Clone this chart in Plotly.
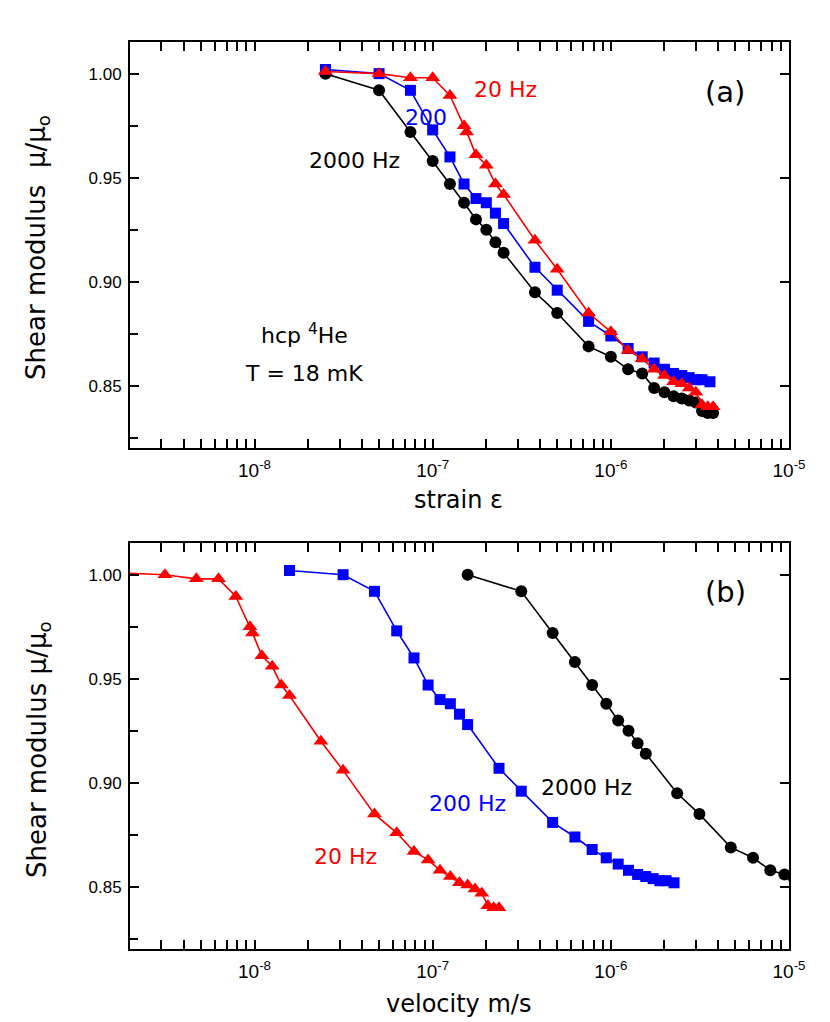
import plotly.graph_objects as go
import math

# ---------------- data ----------------
# Top panel: strain amplitude
strain_2000 = [2.5e-8, 5e-8, 7.5e-8, 1e-7, 1.25e-7, 1.5e-7, 1.75e-7, 2e-7, 2.25e-7, 2.5e-7,
               3.75e-7, 5e-7, 7.5e-7, 1e-6, 1.25e-6, 1.5e-6, 1.75e-6, 2e-6, 2.25e-6, 2.5e-6,
               2.75e-6, 3e-6, 3.25e-6, 3.5e-6, 3.75e-6]
mu_2000 = [1.000, 0.992, 0.972, 0.958, 0.947, 0.938, 0.930, 0.925, 0.919, 0.914,
           0.895, 0.885, 0.869, 0.864, 0.858, 0.856, 0.849, 0.847, 0.845, 0.844,
           0.843, 0.842, 0.838, 0.837, 0.837]

strain_200 = [2.5e-8, 5e-8, 7.5e-8, 1e-7, 1.25e-7, 1.5e-7, 1.75e-7, 2e-7, 2.25e-7, 2.5e-7,
              3.75e-7, 5e-7, 7.5e-7, 1e-6, 1.25e-6, 1.5e-6, 1.75e-6, 2e-6, 2.25e-6, 2.5e-6,
              2.75e-6, 3e-6, 3.25e-6, 3.6e-6]
mu_200 = [1.002, 1.000, 0.992, 0.973, 0.960, 0.947, 0.940, 0.938, 0.933, 0.928,
          0.907, 0.896, 0.881, 0.874, 0.868, 0.864, 0.861, 0.858, 0.856, 0.855,
          0.854, 0.853, 0.853, 0.852]

strain_20 = [2.5e-8, 5e-8, 7.5e-8, 1e-7, 1.25e-7, 1.5e-7, 1.55e-7, 1.75e-7, 2e-7, 2.25e-7,
             2.5e-7, 3.75e-7, 5e-7, 7.5e-7, 1e-6, 1.25e-6, 1.5e-6, 1.75e-6, 2e-6, 2.25e-6,
             2.5e-6, 2.75e-6, 3e-6, 3.25e-6, 3.5e-6, 3.75e-6]
mu_20 = [1.001, 1.000, 0.998, 0.998, 0.9895, 0.975, 0.972, 0.961, 0.956, 0.947,
         0.942, 0.920, 0.906, 0.885, 0.876, 0.867, 0.863, 0.858, 0.855, 0.852,
         0.851, 0.849, 0.847, 0.841, 0.840, 0.840]

# Bottom panel: velocity (m/s)
vel_2000 = [1.571e-7, 3.142e-7, 4.712e-7, 6.283e-7, 7.854e-7, 9.425e-7, 1.0996e-6, 1.2566e-6,
            1.4137e-6, 1.5708e-6, 2.3562e-6, 3.1416e-6, 4.7124e-6, 6.2832e-6, 7.854e-6,
            9.4248e-6, 1.0996e-5, 1.2566e-5, 1.4137e-5, 1.5708e-5, 1.7279e-5, 1.885e-5,
            2.042e-5, 2.199e-5, 2.356e-5]
vel_200 = [1.571e-8, 3.142e-8, 4.712e-8, 6.283e-8, 7.854e-8, 9.425e-8, 1.0996e-7, 1.2566e-7,
           1.4137e-7, 1.5708e-7, 2.3562e-7, 3.1416e-7, 4.7124e-7, 6.2832e-7, 7.854e-7,
           9.4248e-7, 1.0996e-6, 1.2566e-6, 1.4137e-6, 1.5708e-6, 1.7279e-6, 1.885e-6,
           2.042e-6, 2.262e-6]
vel_20 = [1.571e-9, 3.142e-9, 4.712e-9, 6.283e-9, 7.854e-9, 9.425e-9, 9.739e-9, 1.0996e-8,
          1.2566e-8, 1.4137e-8, 1.5708e-8, 2.3562e-8, 3.1416e-8, 4.7124e-8, 6.2832e-8,
          7.854e-8, 9.4248e-8, 1.0996e-7, 1.2566e-7, 1.4137e-7, 1.5708e-7, 1.7279e-7,
          1.885e-7, 2.042e-7, 2.199e-7, 2.356e-7]

# ticks
x_major = [1e-8, 1e-7, 1e-6, 1e-5]
x_major_text = ["10<sup>-8</sup>", "10<sup>-7</sup>", "10<sup>-6</sup>", "10<sup>-5</sup>"]
x_minor = [k * 10.0 ** d for d in range(-9, -5) for k in range(2, 10)]
y_major = [0.85, 0.90, 0.95, 1.00]
y_major_text = ["0.85", "0.90", "0.95", "1.00"]
y_minor = [0.825, 0.875, 0.925, 0.975]

X_RANGE = [math.log10(2e-9), -5]
Y_RANGE = [0.8202, 1.0152]

BLACK, BLUE, RED = "#000000", "#0000ff", "#ff0000"
TXT = "DejaVu Sans"
TICKF = "Liberation Sans, Arial"

fig = go.Figure()

series = [
    (strain_2000, vel_2000, mu_2000, BLACK, "circle", 12),
    (strain_200, vel_200, mu_200, BLUE, "square", 11),
    (strain_20, vel_20, mu_20, RED, "triangle-up", 13),
]
for s, v, m, col, sym, sz in series:
    fig.add_trace(go.Scatter(x=s, y=m, xaxis="x", yaxis="y", mode="lines+markers",
                             line=dict(color=col, width=1.6),
                             marker=dict(symbol=sym, size=sz, color=col),
                             showlegend=False))
    fig.add_trace(go.Scatter(x=v, y=m, xaxis="x2", yaxis="y2", mode="lines+markers",
                             line=dict(color=col, width=1.6),
                             marker=dict(symbol=sym, size=sz, color=col),
                             showlegend=False))

# empty traces for right-side tick axes
fig.add_trace(go.Scatter(x=[], y=[], xaxis="x", yaxis="y3", showlegend=False))
fig.add_trace(go.Scatter(x=[], y=[], xaxis="x2", yaxis="y4", showlegend=False))


def xax(anchor):
    return dict(type="log", range=X_RANGE, anchor=anchor, domain=[0, 1],
                showline=True, linecolor="black", linewidth=2, mirror="allticks",
                ticks="inside", ticklen=9, tickwidth=1.5, tickcolor="black",
                tickmode="array", tickvals=x_major, ticktext=x_major_text,
                tickfont=dict(family=TICKF, size=19, color="black"),
                ticklabelstandoff=4,
                minor=dict(tickmode="array", tickvals=x_minor, ticks="inside",
                           ticklen=6, tickwidth=1.5, tickcolor="black", showgrid=False),
                showgrid=False, zeroline=False)


def yax(anchor, domain):
    return dict(range=Y_RANGE, anchor=anchor, domain=domain,
                showline=True, linecolor="black", linewidth=2, mirror=True,
                ticks="inside", ticklen=9, tickwidth=1.5, tickcolor="black",
                tickmode="array", tickvals=y_major, ticktext=y_major_text,
                tickfont=dict(family=TICKF, size=17, color="black"),
                ticklabelstandoff=3,
                minor=dict(tickmode="array", tickvals=y_minor, ticks="inside",
                           ticklen=8, tickwidth=1.5, tickcolor="black", showgrid=False),
                showgrid=False, zeroline=False)


def yright(overlay, anchor, domain):
    return dict(range=Y_RANGE, overlaying=overlay, anchor=anchor, side="right",
                domain=domain, showline=False, ticks="inside", ticklen=9, tickwidth=1.5,
                tickcolor="black", tickmode="array", tickvals=y_major,
                showticklabels=False, showgrid=False, zeroline=False)


TOP = [0.5524, 1.0]
BOT = [0.0, 0.4476]

fig.update_layout(
    width=830, height=1022,
    margin=dict(l=122, r=49, t=34, b=81),
    paper_bgcolor="white", plot_bgcolor="white",
    showlegend=False,
    xaxis=xax("y"), yaxis=yax("x", TOP),
    xaxis2=xax("y2"), yaxis2=yax("x2", BOT),
    yaxis3=yright("y", "x", TOP), yaxis4=yright("y2", "x2", BOT),
)

ann = []


def txt(text, x, y, color, size=22, xref="x", yref="y", angle=0):
    ann.append(dict(text=text, x=x, y=y, xref=xref, yref=yref, showarrow=False,
                    textangle=angle, xanchor="center", yanchor="middle",
                    font=dict(family=TXT, size=size, color=color)))


# top panel labels
txt("20 Hz", -6.594, 0.9922, RED)
txt("200", -7.038, 0.9788, BLUE)
txt("2000 Hz", -7.437, 0.9582, BLACK)
txt("(a)", -5.357, 0.9912, BLACK, size=29)
txt("hcp <sup>4</sup>He", -7.72, 0.8750, BLACK)
txt("T = 18 mK", -7.72, 0.8560, BLACK)
# bottom panel labels
txt("(b)", -5.357, 0.9917, BLACK, size=29, xref="x2", yref="y2")
txt("2000 Hz", -6.139, 0.8977, BLACK, xref="x2", yref="y2")
txt("200 Hz", -6.807, 0.8900, BLUE, xref="x2", yref="y2")
txt("20 Hz", -7.492, 0.8647, RED, xref="x2", yref="y2")

# axis titles
txt("Shear modulus  \u03bc/\u03bc<sub>o</sub>", -0.1396, 0.7729, BLACK, size=26,
    xref="paper", yref="paper", angle=-90)
txt("Shear modulus \u03bc/\u03bc<sub>o</sub>", -0.1396, 0.2194, BLACK, size=26,
    xref="paper", yref="paper", angle=-90)
txt("strain \u03b5", 0.4985, 0.495, BLACK, size=24, xref="paper", yref="paper")
txt("velocity m/s", 0.4985, -0.0606, BLACK, size=24, xref="paper", yref="paper")

fig.update_layout(annotations=ann)

fig.write_html("out.html")
